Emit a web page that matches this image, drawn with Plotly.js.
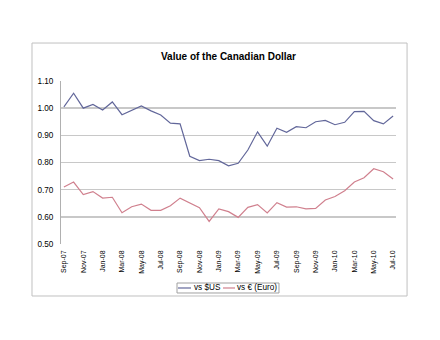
<!DOCTYPE html>
<html>
<head>
<meta charset="utf-8">
<script src="https://cdn.plot.ly/plotly-3.0.1.min.js"></script>
<style>html,body{margin:0;padding:0;background:#fff;}#chart{width:440px;height:340px;}</style>
</head>
<body>
<div id="chart"></div>
<script>
var months = ['Sep-07','Oct-07','Nov-07','Dec-07','Jan-08','Feb-08','Mar-08','Apr-08','May-08','Jun-08','Jul-08','Aug-08',
  'Sep-08','Oct-08','Nov-08','Dec-08','Jan-09','Feb-09','Mar-09','Apr-09','May-09','Jun-09','Jul-09','Aug-09',
  'Sep-09','Oct-09','Nov-09','Dec-09','Jan-10','Feb-10','Mar-10','Apr-10','May-10','Jun-10','Jul-10'];
var tickLabels = ['Sep-07','Nov-07','Jan-08','Mar-08','May-08','Jul-08','Sep-08','Nov-08','Jan-09','Mar-09','May-09','Jul-09',
  'Sep-09','Nov-09','Jan-10','Mar-10','May-10','Jul-10'];
var seriesNames = ['vs $US', 'vs € (Euro)'];
var vsUSD = [1.005,1.055,1.000,1.014,0.993,1.023,0.976,0.993,1.008,0.990,0.975,0.945,
  0.942,0.823,0.807,0.812,0.807,0.788,0.797,0.846,0.913,0.860,0.926,0.911,
  0.932,0.928,0.950,0.955,0.939,0.948,0.987,0.988,0.954,0.942,0.971];
var vsEUR = [0.710,0.728,0.682,0.693,0.669,0.672,0.615,0.637,0.647,0.624,0.624,0.641,
  0.669,0.650,0.634,0.583,0.629,0.619,0.598,0.635,0.645,0.614,0.652,0.636,
  0.637,0.629,0.631,0.662,0.675,0.696,0.728,0.744,0.777,0.766,0.739];

var font = 'Liberation Sans, Arial, sans-serif';
var colors = ['#62679a', '#d0808e'];
var traces = [
  {x: months, y: vsUSD, type: 'scatter', mode: 'lines', name: seriesNames[0],
   line: {color: colors[0], width: 1.2}},
  {x: months, y: vsEUR, type: 'scatter', mode: 'lines', name: seriesNames[1],
   line: {color: colors[1], width: 1.2}}
];
// compact legend (box + sample lines + labels), positioned in paper units
var legY = -0.2699;
var layout = {
  width: 440, height: 340,
  margin: {l: 61, r: 44, t: 81, b: 96},
  paper_bgcolor: '#fff', plot_bgcolor: '#fff',
  font: {family: font, color: '#000', size: 8},
  title: {text: '<b>Value of the Canadian Dollar</b>', font: {family: font, size: 10, color: '#000'},
    x: 0.5, xref: 'paper', xanchor: 'center', y: 1 - 56/340, yanchor: 'middle'},
  xaxis: {type: 'category', range: [-0.3, 34.3], tickmode: 'array', tickvals: tickLabels, ticktext: tickLabels,
    tickangle: -90, showgrid: false, showline: false, zeroline: false, ticks: '',
    ticklabelstandoff: 4,
    tickfont: {family: font, size: 7, color: '#000'}, fixedrange: true},
  yaxis: {range: [0.5, 1.1], dtick: 0.1, tick0: 0.5, tickformat: '.2f', showgrid: true,
    gridcolor: '#c8c8c8', gridwidth: 1.5, showline: true, linecolor: '#b0b0b0', linewidth: 1,
    zeroline: false, ticks: '', ticklabelstandoff: 5, tickfont: {family: font, size: 8.2, color: '#000'}, fixedrange: true},
  showlegend: false,
  shapes: [
    {type: 'rect', xref: 'paper', yref: 'paper', x0: -0.0866, x1: 1.033, y0: -0.319, y1: 1.233,
     line: {color: '#c0c0c0', width: 1}, layer: 'below'},
    {type: 'rect', xref: 'paper', yref: 'paper', x0: 0.3463, x1: 0.6507, y0: -0.3006, y1: -0.2393,
     line: {color: '#a0a0a0', width: 1}, fillcolor: '#fff'},
    {type: 'line', xref: 'paper', yref: 'paper', x0: 0.3493, x1: 0.3881, y0: legY, y1: legY,
     line: {color: colors[0], width: 1.2}},
    {type: 'line', xref: 'paper', yref: 'paper', x0: 0.4836, x1: 0.5194, y0: legY, y1: legY,
     line: {color: colors[1], width: 1.2}}
  ],
  annotations: [
    {xref: 'paper', yref: 'paper', x: 0.392, y: legY, xanchor: 'left', yanchor: 'middle', showarrow: false,
     text: seriesNames[0], font: {family: font, size: 8.2, color: '#000'}},
    {xref: 'paper', yref: 'paper', x: 0.520, y: legY, xanchor: 'left', yanchor: 'middle', showarrow: false,
     text: seriesNames[1], font: {family: font, size: 8.2, color: '#000'}}
  ]
};
Plotly.newPlot('chart', traces, layout, {displayModeBar: false, staticPlot: true});
</script>
</body>
</html>
